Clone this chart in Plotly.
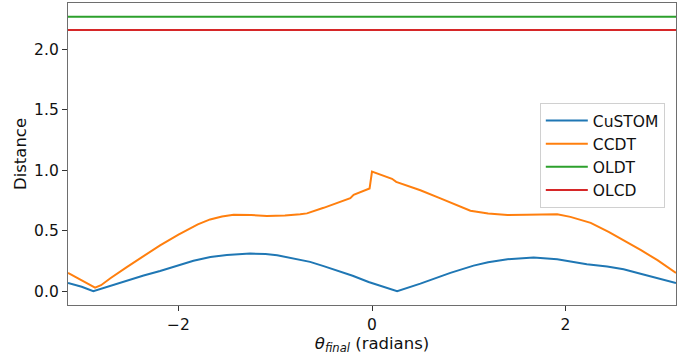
import numpy as np
import plotly.graph_objects as go

# CuSTOM distance versus final angle
custom_theta = [-3.1416, -3.0, -2.88, -2.70, -2.534, -2.36, -2.19, -2.0, -1.845, -1.67,
                -1.5, -1.26, -1.1, -0.98, -0.84, -0.64, -0.5, -0.40, -0.2, -0.035,
                0.1, 0.26, 0.5, 0.81, 1.05, 1.2, 1.40, 1.67, 1.914, 2.05,
                2.22, 2.43, 2.6, 2.775, 3.0, 3.1416]
custom_dist = [0.069, 0.037, 0.0, 0.047, 0.089, 0.130, 0.168, 0.212, 0.252, 0.283,
               0.300, 0.312, 0.308, 0.298, 0.276, 0.243, 0.208, 0.182, 0.128, 0.077,
               0.042, 0.0, 0.063, 0.152, 0.212, 0.240, 0.265, 0.279, 0.265, 0.245,
               0.224, 0.205, 0.182, 0.145, 0.101, 0.069]

# CCDT distance versus final angle
ccdt_theta = [-3.1416, -3.0, -2.862, -2.80, -2.70, -2.534, -2.36, -2.19, -2.0, -1.914,
              -1.80, -1.673, -1.55, -1.43, -1.25, -1.086, -0.9, -0.742, -0.672, -0.5,
              -0.224, -0.19, -0.025, 0.0, 0.207, 0.25, 0.5, 0.707, 0.85, 1.017,
              1.2, 1.40, 1.6, 1.74, 1.914, 2.05, 2.26, 2.45, 2.60, 2.78,
              2.95, 3.1416]
ccdt_dist = [0.152, 0.09, 0.03, 0.05, 0.11, 0.20, 0.292, 0.38, 0.468, 0.506,
             0.553, 0.594, 0.618, 0.632, 0.631, 0.622, 0.626, 0.636, 0.644, 0.69,
             0.770, 0.797, 0.85, 0.99, 0.93, 0.905, 0.835, 0.768, 0.72, 0.666,
             0.643, 0.630, 0.632, 0.636, 0.636, 0.615, 0.566, 0.49, 0.423, 0.34,
             0.257, 0.152]

# Constant baselines
oldt_dist = 2.27
olcd_dist = 2.16

x_ticks = [-2, 0, 2]
y_ticks = [0.0, 0.5, 1.0, 1.5, 2.0]

x_min, x_max = -np.pi, np.pi
y_lo = min(min(custom_dist), min(ccdt_dist))
y_hi = max(oldt_dist, olcd_dist)
pad = 0.05 * (y_hi - y_lo)

FONT = "DejaVu Sans"
AX = "#6e6e6e"

fig = go.Figure()
fig.add_trace(go.Scatter(x=custom_theta, y=custom_dist, mode="lines", name="CuSTOM",
                         line=dict(color="#1f77b4", width=2)))
fig.add_trace(go.Scatter(x=ccdt_theta, y=ccdt_dist, mode="lines", name="CCDT",
                         line=dict(color="#ff7f0e", width=2)))
fig.add_trace(go.Scatter(x=[x_min, x_max], y=[oldt_dist, oldt_dist], mode="lines", name="OLDT",
                         line=dict(color="#2ca02c", width=2)))
fig.add_trace(go.Scatter(x=[x_min, x_max], y=[olcd_dist, olcd_dist], mode="lines", name="OLCD",
                         line=dict(color="#d62728", width=2)))

axis_common = dict(showgrid=False, zeroline=False, showline=True, mirror=True,
                   linecolor=AX, linewidth=1.3, ticks="outside", ticklen=5,
                   tickwidth=1.2, tickcolor="#333", tickfont=dict(family=FONT, size=15.5, color="#111"))

fig.update_layout(
    width=694, height=355,
    margin=dict(l=68, r=18, t=3, b=50),
    paper_bgcolor="white", plot_bgcolor="white",
    font=dict(family=FONT, color="#111"),
    xaxis=dict(range=[x_min, x_max], tickvals=x_ticks,
               title=dict(text="<i>θ</i><sub><i>final</i></sub> (radians)",
                          font=dict(family=FONT, size=16.5), standoff=4),
               **axis_common),
    yaxis=dict(range=[y_lo - pad, y_hi + pad], tickvals=y_ticks, tickformat=".1f",
               title=dict(text="Distance", font=dict(family=FONT, size=16.5), standoff=3),
               **axis_common),
    legend=dict(x=0.776, y=0.669, xanchor="left", yanchor="top",
                bgcolor="white", bordercolor="#d0d0d0", borderwidth=1,
                font=dict(family=FONT, size=15.5), itemwidth=42),
)

fig.write_html("out.html")
